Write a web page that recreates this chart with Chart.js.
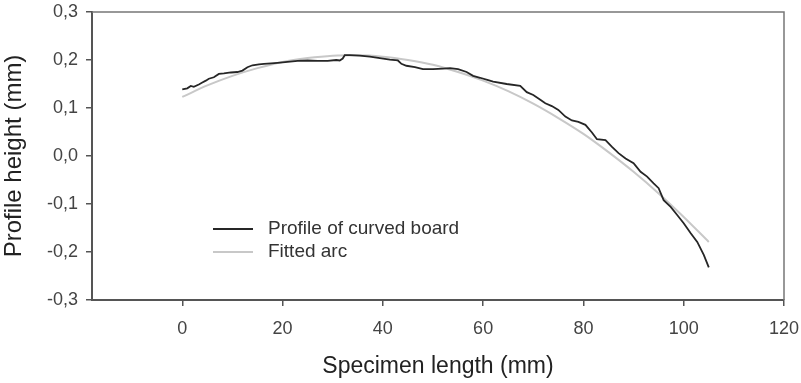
<!DOCTYPE html>
<html>
<head>
<meta charset="utf-8">
<script src="https://cdn.jsdelivr.net/npm/chart.js@4"></script>
<style>
html, body { margin: 0; padding: 0; background: #fff; }
</style>
</head>
<body>
<canvas id="profileChart" width="801" height="383"></canvas>
<script>
// Profile of curved board
const profileX = [0, 1, 1.7, 2.3, 3.3, 4, 4.7, 5.3, 6.3, 7.3, 8.3, 9.7, 11, 12, 13, 14, 15.3, 16.3, 17.7, 19,
    21, 23, 25, 27, 29, 30.7, 31.4, 32, 32.4, 33.4, 35.4, 37.4, 39.4, 41.4, 43, 43.7, 44.7, 46.4, 48, 50,
    52, 53.4, 55, 56.7, 58, 59.4, 61, 62, 64.7, 67.4, 68.7, 70, 71.4, 72.4, 73.7, 75, 76.4, 77.7, 79, 80.4,
    81.7, 82.7, 84.4, 85.7, 87, 88.4, 90, 91.4, 92.7, 94, 95, 96, 97.4, 98.7, 100, 101.4, 102.7, 104, 105];
const profileY = [0.139, 0.141, 0.146, 0.144, 0.149, 0.153, 0.157, 0.161, 0.164, 0.171, 0.172, 0.174, 0.175, 0.178, 0.185, 0.189, 0.191, 0.192, 0.193, 0.194,
    0.196, 0.198, 0.199, 0.198, 0.198, 0.200, 0.199, 0.203, 0.210, 0.210, 0.209, 0.207, 0.204, 0.201, 0.199, 0.192, 0.188, 0.185, 0.181, 0.181,
    0.182, 0.183, 0.181, 0.175, 0.167, 0.163, 0.158, 0.155, 0.150, 0.146, 0.133, 0.127, 0.117, 0.110, 0.104, 0.096, 0.082, 0.074, 0.071, 0.065,
    0.049, 0.035, 0.033, 0.019, 0.006, -0.005, -0.015, -0.033, -0.043, -0.057, -0.067, -0.092, -0.106, -0.123, -0.140, -0.161, -0.179, -0.206, -0.232];

// Fitted arc
const arcX = [0, 5, 10, 15, 20, 25, 30, 35, 40, 45, 50, 55, 60, 65, 70, 75, 80, 85, 90, 95, 100, 105];
const arcY = [0.123, 0.147, 0.167, 0.183, 0.196, 0.204, 0.209, 0.210, 0.207, 0.200, 0.190, 0.175, 0.157, 0.135, 0.109, 0.079, 0.046, 0.008, -0.033, -0.078, -0.127, -0.179];

// Axis ticks
const xTicks = [0, 20, 40, 60, 80, 100, 120];
const yTicks = [-0.3, -0.2, -0.1, 0, 0.1, 0.2, 0.3];

const FONT = '"Liberation Sans", Arial, sans-serif';

const toPoints = (xs, ys) => xs.map((x, i) => ({ x: x, y: ys[i] }));

// Top and right border of the plot box
const frame = {
    id: 'frame',
    beforeDatasetsDraw(chart) {
        const { ctx, chartArea: a } = chart;
        ctx.save();
        ctx.strokeStyle = '#777';
        ctx.lineWidth = 1.5;
        ctx.beginPath();
        ctx.moveTo(a.left, a.top);
        ctx.lineTo(a.right, a.top);
        ctx.lineTo(a.right, a.bottom);
        ctx.stroke();
        ctx.restore();
    }
};

// Legend inside the plot
const innerLegend = {
    id: 'innerLegend',
    afterDatasetsDraw(chart) {
        const { ctx, chartArea: a } = chart;
        const x0 = a.left + 121, y0 = a.top + 217;
        ctx.save();
        ctx.font = '19px ' + FONT;
        ctx.textBaseline = 'middle';
        chart.data.datasets.forEach((ds, i) => {
            const y = y0 + i * 23;
            ctx.strokeStyle = ds.borderColor;
            ctx.lineWidth = ds.borderWidth;
            ctx.beginPath();
            ctx.moveTo(x0, y);
            ctx.lineTo(x0 + 40, y);
            ctx.stroke();
            ctx.fillStyle = '#333';
            ctx.fillText(ds.label, x0 + 55, y);
        });
        ctx.restore();
    }
};

new Chart(document.getElementById('profileChart').getContext('2d'), {
    type: 'scatter',
    data: {
        datasets: [
            {
                label: 'Profile of curved board',
                data: toPoints(profileX, profileY),
                showLine: true,
                borderColor: '#262626',
                borderWidth: 1.8,
                pointRadius: 0,
                tension: 0
            },
            {
                label: 'Fitted arc',
                data: toPoints(arcX, arcY),
                showLine: true,
                borderColor: '#c8c8c8',
                borderWidth: 2,
                pointRadius: 0,
                cubicInterpolationMode: 'monotone'
            }
        ]
    },
    options: {
        responsive: false,
        animation: false,
        layout: { padding: { top: 12, right: 17, left: 0, bottom: 0 } },
        plugins: {
            legend: { display: false },
            tooltip: { enabled: false }
        },
        scales: {
            x: {
                type: 'linear',
                min: -18,
                max: 120,
                afterBuildTicks: (s) => { s.ticks = xTicks.map(v => ({ value: v })); },
                afterFit: (s) => { s.height = 83; s.paddingLeft = 0; s.paddingRight = 0; },
                border: { display: true, color: '#555', width: 2 },
                grid: { drawOnChartArea: false, drawTicks: true, tickLength: 6, color: '#555', lineWidth: 1.5 },
                ticks: { font: { family: FONT, size: 18 }, color: '#444', padding: 12, maxRotation: 0 },
                title: {
                    display: true,
                    text: 'Specimen length (mm)',
                    font: { family: FONT, size: 23 },
                    color: '#222',
                    padding: { top: 0, bottom: 3 }
                }
            },
            y: {
                min: -0.3,
                max: 0.3,
                afterBuildTicks: (s) => { s.ticks = yTicks.map(v => ({ value: v })); },
                afterFit: (s) => { s.width = 92; s.paddingTop = 0; s.paddingBottom = 0; },
                border: { display: true, color: '#555', width: 2 },
                grid: { drawOnChartArea: false, drawTicks: true, tickLength: 6, color: '#555', lineWidth: 1.5 },
                ticks: {
                    font: { family: FONT, size: 18 },
                    color: '#444',
                    padding: 8,
                    callback: (v) => (Math.abs(v) < 1e-9 ? 0 : v).toFixed(1).replace('.', ',')
                },
                title: {
                    display: true,
                    text: 'Profile height (mm)',
                    font: { family: FONT, size: 24 },
                    color: '#222',
                    padding: { top: 0, bottom: 0 }
                }
            }
        }
    },
    plugins: [frame, innerLegend]
});
</script>
</body>
</html>
